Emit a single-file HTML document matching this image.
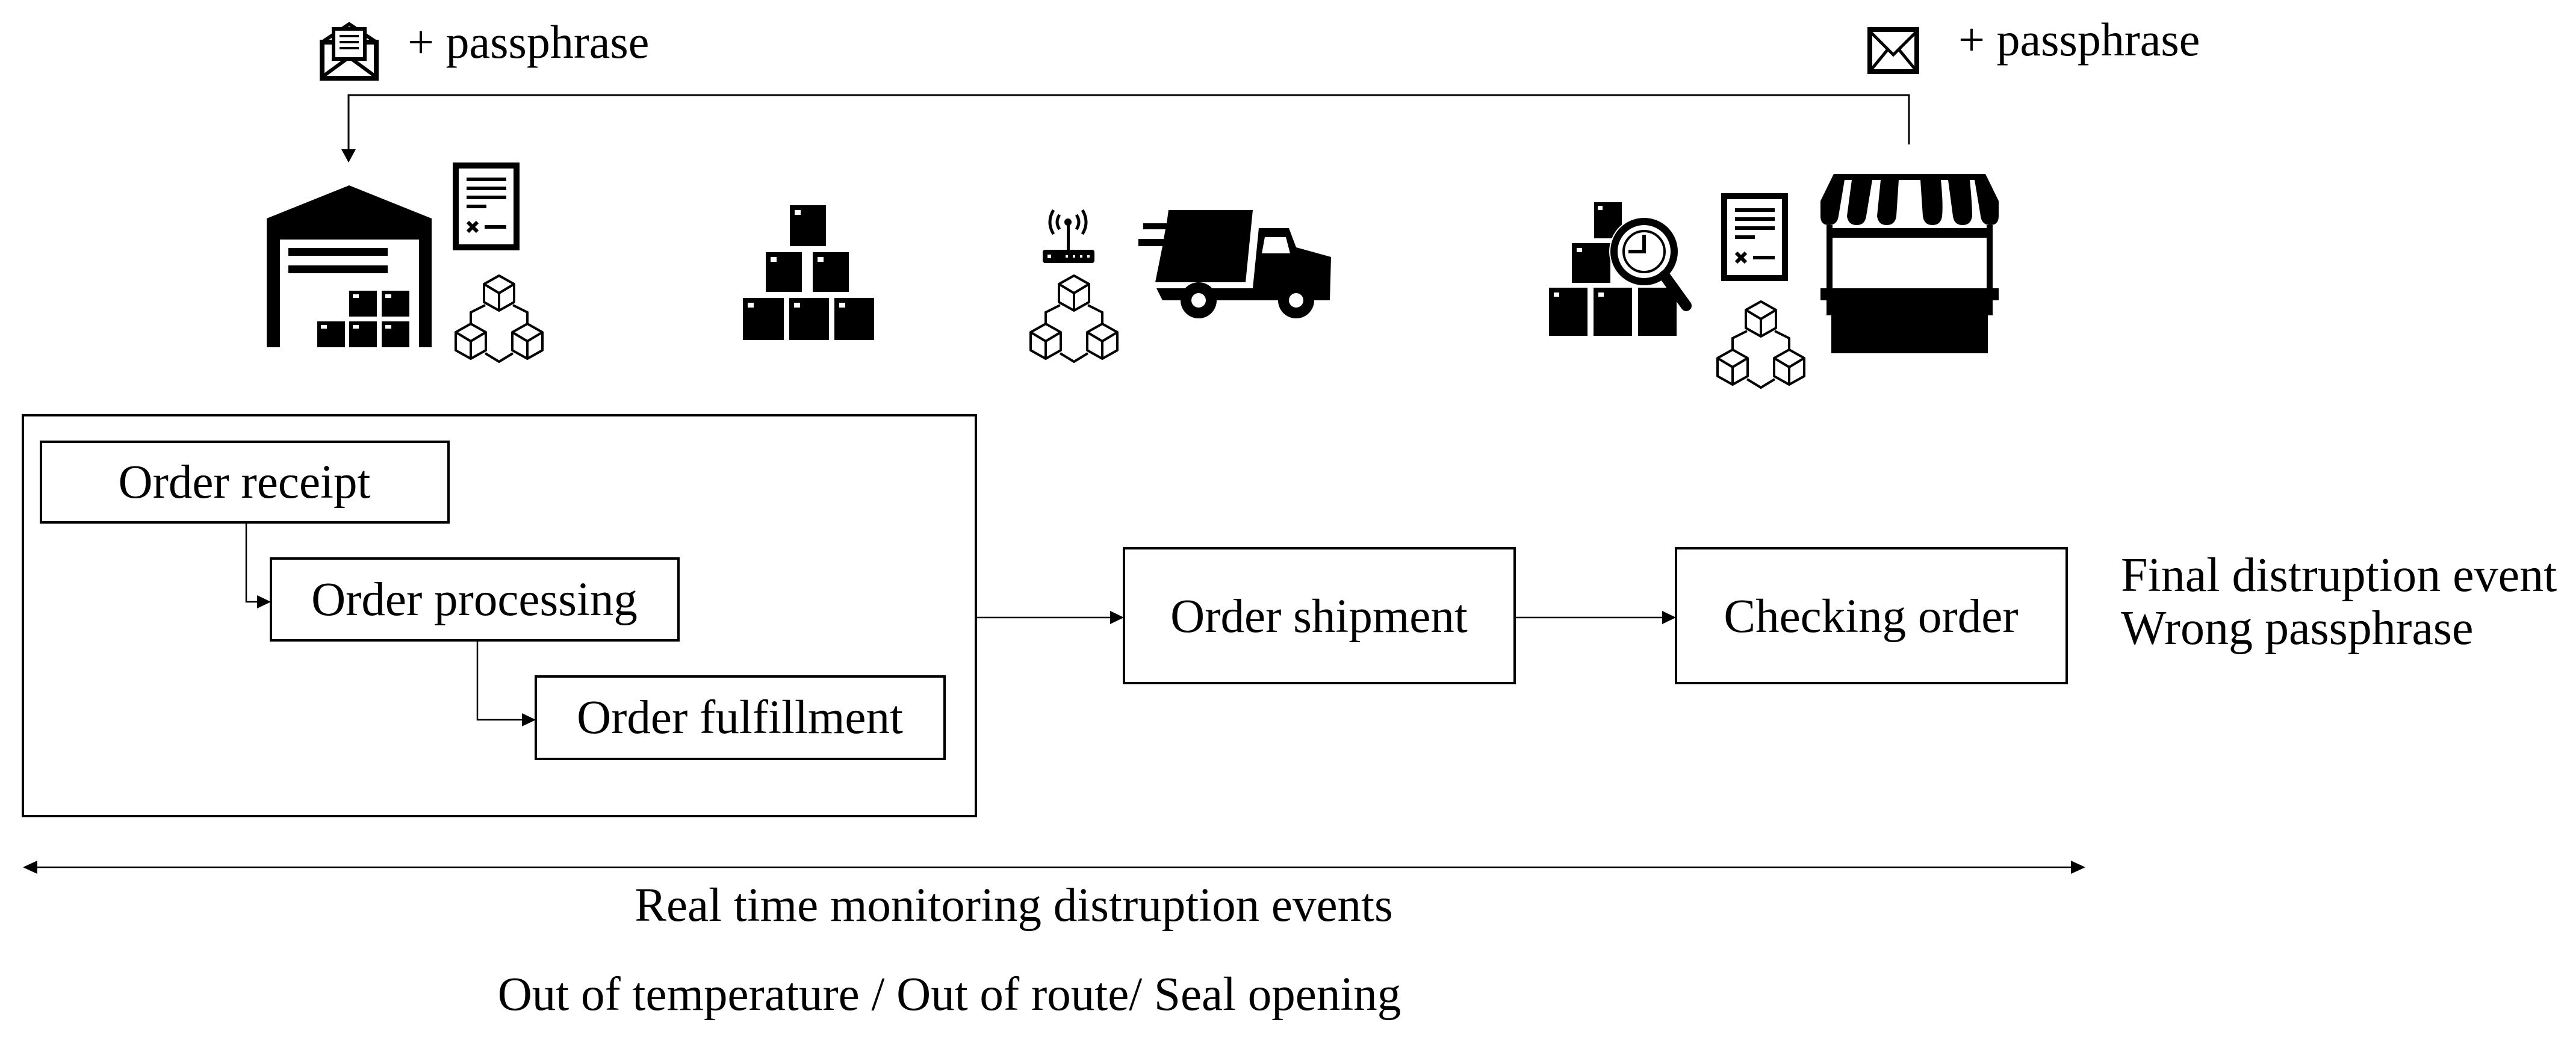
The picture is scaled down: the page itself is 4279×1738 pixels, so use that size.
<!DOCTYPE html>
<html><head><meta charset="utf-8"><style>
html,body{margin:0;padding:0;background:#fff;}
svg{display:block;}
text{font-family:"Liberation Serif",serif;fill:#000;}
</style></head><body>
<svg width="4279" height="1738" viewBox="0 0 4279 1738" xmlns="http://www.w3.org/2000/svg">
<defs>
<g id="cube" fill="none" stroke="#000" stroke-width="4" stroke-linejoin="round">
<polygon points="0,-29 25,-15 25,15 0,29 -25,15 -25,-15"/>
<polyline points="-25,-15 0,0 25,-15"/><line x1="0" y1="0" x2="0" y2="29"/>
</g>
<g id="chain">
<use href="#cube" x="73" y="30"/><use href="#cube" x="26" y="110"/><use href="#cube" x="120" y="110"/>
<polyline points="50,50 26,62 26,81" fill="none" stroke="#000" stroke-width="4"/>
<polyline points="96,50 120,62 120,81" fill="none" stroke="#000" stroke-width="4"/>
<polyline points="50,130 73,144 96,130" fill="none" stroke="#000" stroke-width="4"/>
</g>
<g id="doc">
<rect x="4" y="4" width="101" height="136" fill="#fff" stroke="#000" stroke-width="10"/>
<rect x="22" y="24" width="66" height="6"/><rect x="22" y="39" width="66" height="6"/><rect x="22" y="54" width="66" height="6"/><rect x="22" y="69" width="33" height="6"/>
<path d="M24 98 L40 114 M40 98 L24 114" stroke="#000" stroke-width="6"/>
<rect x="52" y="103" width="36" height="6"/>
</g>
<g id="box"><rect x="0" y="0" width="46" height="43"/><rect x="6" y="6" width="10" height="6" fill="#fff"/></g>
</defs>

<polyline points="3171,240 3171,158 579,158 579,255" fill="none" stroke="#000" stroke-width="3"/>
<polygon points="567,248 591,248 579,270"/>

<g transform="translate(532,40)">
<rect x="3" y="30" width="90" height="60" fill="#fff" stroke="#000" stroke-width="8"/>
<polyline points="3,88 48,55 93,88" fill="none" stroke="#000" stroke-width="6"/>
<polyline points="3,30 48,0 93,30" fill="none" stroke="#000" stroke-width="6"/>
<rect x="22" y="8" width="52" height="50" fill="#fff" stroke="#000" stroke-width="6"/>
<rect x="32" y="18" width="32" height="4"/><rect x="32" y="28" width="32" height="4"/><rect x="32" y="38" width="32" height="4"/>
</g>
<text x="677" y="96" font-size="78">+ passphrase</text>

<g transform="translate(3103,46)">
<rect x="3" y="3" width="78" height="70" fill="#fff" stroke="#000" stroke-width="8"/>
<polyline points="5,8 42,45 79,8" fill="none" stroke="#000" stroke-width="5"/>
<line x1="5" y1="70" x2="33" y2="36" stroke="#000" stroke-width="5"/><line x1="79" y1="70" x2="51" y2="36" stroke="#000" stroke-width="5"/>
</g>
<text x="3253" y="92" font-size="78">+ passphrase</text>

<g transform="translate(443,308)">
<polygon points="0,55 137,0 274,55 274,269 253,269 253,90 22,90 22,269 0,269"/>
<rect x="36" y="104" width="165" height="13"/><rect x="36" y="133" width="165" height="13"/>
<use href="#box" x="137" y="175"/><use href="#box" x="191" y="175"/>
<use href="#box" x="84" y="226"/><use href="#box" x="137" y="226"/><use href="#box" x="191" y="226"/>
</g>
<use href="#doc" x="753" y="271"/>
<use href="#chain" x="756" y="457"/>

<g transform="translate(1234,341)">
<rect x="78" y="0" width="60" height="68"/><rect x="86" y="8" width="10" height="8" fill="#fff"/>
<rect x="38" y="78" width="60" height="66"/><rect x="46" y="86" width="10" height="8" fill="#fff"/>
<rect x="116" y="78" width="60" height="66"/><rect x="124" y="86" width="10" height="8" fill="#fff"/>
<rect x="0" y="154" width="68" height="70"/><rect x="8" y="162" width="10" height="8" fill="#fff"/>
<rect x="77" y="154" width="66" height="70"/><rect x="85" y="162" width="10" height="8" fill="#fff"/>
<rect x="152" y="154" width="66" height="70"/><rect x="160" y="162" width="10" height="8" fill="#fff"/>
</g>

<g transform="translate(1730,347)">
<rect x="2" y="68" width="86" height="22" rx="4"/>
<rect x="10" y="76" width="6" height="6" fill="#fff"/><rect x="40" y="77" width="4" height="4" fill="#fff"/><rect x="52" y="77" width="4" height="4" fill="#fff"/><rect x="64" y="77" width="4" height="4" fill="#fff"/><rect x="76" y="77" width="4" height="4" fill="#fff"/>
<rect x="42" y="22" width="5" height="46"/>
<circle cx="44" cy="22" r="6"/>
<path d="M30 10 Q22 22 30 34 M58 10 Q66 22 58 34 M20 2 Q8 22 20 42 M68 2 Q80 22 68 42" fill="none" stroke="#000" stroke-width="5"/>
</g>
<use href="#chain" x="1711" y="457"/>

<g transform="translate(1891,349)">
<polygon points="50,0 190,0 178,120 28,120 40,60 0,60 0,48 42,48 45,32 8,32 8,22 47,22"/>
<polygon points="200,30 250,30 262,62 320,78 318,150 40,150 30,130 190,130"/>
<path d="M210 45 L245 45 L252 72 L205 72 Z" fill="#fff"/>
<circle cx="100" cy="150" r="30"/><circle cx="100" cy="150" r="12" fill="#fff"/>
<circle cx="262" cy="150" r="30"/><circle cx="262" cy="150" r="12" fill="#fff"/>
</g>

<g transform="translate(2573,330)">
<rect x="75" y="6" width="46" height="60"/><rect x="81" y="12" width="8" height="7" fill="#fff"/>
<rect x="38" y="74" width="64" height="66"/><rect x="46" y="82" width="9" height="7" fill="#fff"/>
<rect x="0" y="148" width="64" height="80"/><rect x="8" y="156" width="9" height="7" fill="#fff"/>
<rect x="74" y="148" width="64" height="80"/><rect x="82" y="156" width="9" height="7" fill="#fff"/>
<rect x="148" y="148" width="64" height="80"/>
<circle cx="158" cy="88" r="58" fill="#fff"/>
<circle cx="158" cy="88" r="50" fill="none" stroke="#000" stroke-width="12"/>
<circle cx="158" cy="88" r="34" fill="none" stroke="#000" stroke-width="4"/>
<path d="M158 60 L158 88 L132 88" fill="none" stroke="#000" stroke-width="6"/>
<line x1="192" y1="128" x2="228" y2="178" stroke="#000" stroke-width="18" stroke-linecap="round"/>
</g>
<use href="#doc" x="2860" y="322"/>
<use href="#chain" x="2852" y="500"/>

<g transform="translate(3024,289)">
<path d="M22 0 L274 0 L296 45 L296 70 Q296 85 282 85 Q268 85 266 70 L256 10 L248 10 Q252 50 252 70 Q250 85 236 85 Q222 85 220 70 L212 10 L200 10 Q204 50 202 70 Q200 85 186 85 Q172 85 170 70 L166 10 L130 10 L126 70 Q124 85 110 85 Q96 85 94 70 L100 10 L86 10 L76 70 Q74 85 60 85 Q46 85 44 70 L52 10 L40 10 L30 70 Q28 85 14 85 Q0 85 0 70 L0 45 Z"/>
<rect x="10" y="85" width="10" height="150"/><rect x="276" y="85" width="10" height="150"/>
<rect x="10" y="90" width="276" height="16"/>
<rect x="0" y="190" width="296" height="20"/>
<rect x="18" y="200" width="260" height="98"/>
</g>

<g fill="none" stroke="#000" stroke-width="4">
<rect x="38" y="690" width="1583" height="666"/>
<rect x="68" y="734" width="677" height="134"/>
<rect x="450" y="928" width="677" height="136"/>
<rect x="890" y="1124" width="679" height="137"/>
<rect x="1867" y="911" width="649" height="224"/>
<rect x="2784" y="911" width="649" height="224"/>
</g>
<g fill="none" stroke="#000" stroke-width="2.5">
<polyline points="409,868 409,1000 440,1000"/>
<polyline points="793,1064 793,1196 880,1196"/>
<line x1="1621" y1="1026" x2="1855" y2="1026"/>
<line x1="2516" y1="1026" x2="2772" y2="1026"/>
<line x1="50" y1="1441" x2="3450" y2="1441"/>
</g>
<polygon points="450,1000 427,989 427,1011"/>
<polygon points="890,1196 867,1185 867,1207"/>
<polygon points="1867,1026 1844,1015 1844,1037"/>
<polygon points="2784,1026 2761,1015 2761,1037"/>
<polygon points="38,1441 62,1430 62,1452"/>
<polygon points="3464,1441 3440,1430 3440,1452"/>

<g font-size="79" text-anchor="middle">
<text x="406" y="827">Order receipt</text>
<text x="788" y="1022">Order processing</text>
<text x="1229" y="1218">Order fulfillment</text>
<text x="2191" y="1050">Order shipment</text>
<text x="3108" y="1050">Checking order</text>
<text x="1684" y="1530">Real time monitoring distruption events</text>
<text x="1577" y="1678">Out of temperature / Out of route/ Seal opening</text>
</g>
<text x="3523" y="982" font-size="80">Final distruption event</text>
<text x="3523" y="1070" font-size="80">Wrong passphrase</text>
</svg>
</body></html>
